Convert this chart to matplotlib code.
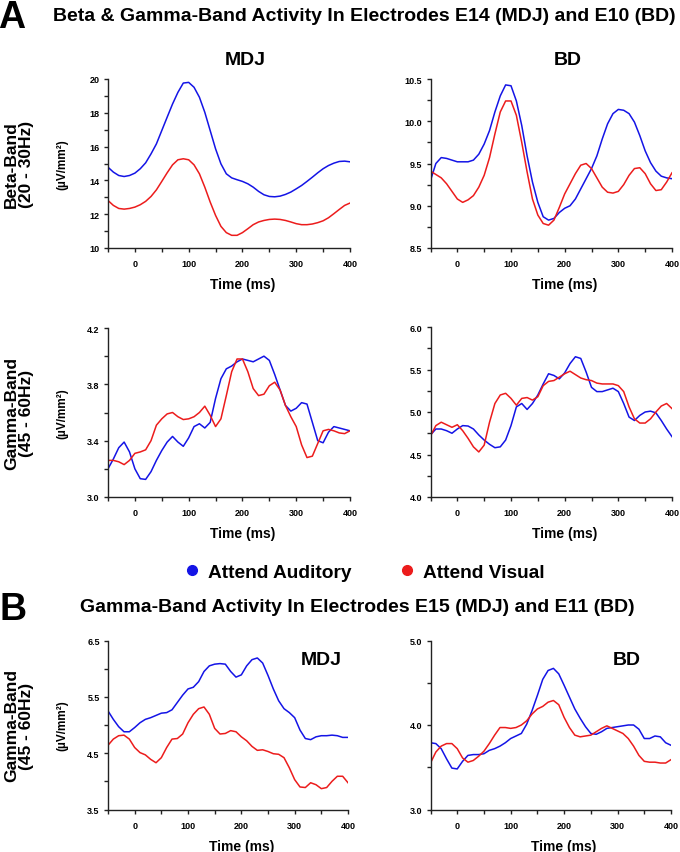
import numpy as np
import matplotlib
matplotlib.use('Agg')
import matplotlib.pyplot as plt
from matplotlib import font_manager
from matplotlib.lines import Line2D
from matplotlib.transforms import blended_transform_factory

# time axis (ms), sampled every 10 ms
t = list(range(-50, 401, 10))

# A, Beta-band, MDJ (E14)
mdj_beta_aud = [14.78, 14.49, 14.29, 14.23, 14.29, 14.43, 14.69, 15.04, 15.57, 16.16,
                16.95, 17.74, 18.52, 19.21, 19.76, 19.80, 19.51, 18.92, 18.03, 16.95,
                15.87, 14.98, 14.39, 14.15, 14.04, 13.94, 13.80, 13.60, 13.35, 13.15,
                13.05, 13.03, 13.07, 13.17, 13.31, 13.50, 13.70, 13.94, 14.19, 14.45,
                14.69, 14.88, 15.02, 15.12, 15.14, 15.10]
mdj_beta_vis = [12.81, 12.52, 12.34, 12.30, 12.34, 12.42, 12.56, 12.76, 13.05, 13.44,
                13.94, 14.45, 14.92, 15.22, 15.28, 15.22, 14.92, 14.39, 13.60, 12.72,
                11.93, 11.28, 10.91, 10.75, 10.75, 10.91, 11.14, 11.38, 11.54, 11.63,
                11.69, 11.71, 11.69, 11.63, 11.54, 11.44, 11.38, 11.38, 11.42, 11.50,
                11.61, 11.79, 12.03, 12.28, 12.52, 12.66]

# A, Beta-band, BD (E10)
bd_beta_aud = [9.30, 9.50, 9.57, 9.56, 9.54, 9.52, 9.52, 9.52, 9.54, 9.61,
               9.73, 9.89, 10.11, 10.30, 10.43, 10.42, 10.24, 9.95, 9.59, 9.28,
               9.04, 8.87, 8.83, 8.85, 8.92, 8.97, 9.00, 9.08, 9.20, 9.32,
               9.44, 9.59, 9.79, 9.97, 10.09, 10.14, 10.13, 10.09, 9.99, 9.83,
               9.65, 9.51, 9.41, 9.35, 9.33, 9.32]
bd_beta_vis = [9.41, 9.37, 9.33, 9.26, 9.17, 9.08, 9.04, 9.07, 9.12, 9.22,
               9.36, 9.57, 9.85, 10.11, 10.24, 10.24, 10.07, 9.75, 9.40, 9.08,
               8.89, 8.79, 8.77, 8.83, 8.98, 9.14, 9.26, 9.38, 9.48, 9.50,
               9.44, 9.33, 9.22, 9.16, 9.15, 9.17, 9.25, 9.36, 9.44, 9.45,
               9.38, 9.26, 9.18, 9.19, 9.28, 9.39]

# A, Gamma-band, MDJ (E14)
mdj_gamma_aud = [3.20, 3.27, 3.35, 3.39, 3.32, 3.20, 3.13, 3.125, 3.18, 3.26,
                 3.33, 3.39, 3.43, 3.39, 3.36, 3.42, 3.50, 3.52, 3.49, 3.53,
                 3.70, 3.84, 3.91, 3.93, 3.96, 3.98, 3.97, 3.96, 3.98, 4.00,
                 3.97, 3.87, 3.76, 3.65, 3.61, 3.63, 3.67, 3.66, 3.53, 3.40,
                 3.385, 3.46, 3.50, 3.49, 3.48, 3.47]
mdj_gamma_vis = [3.26, 3.26, 3.25, 3.23, 3.26, 3.31, 3.32, 3.335, 3.40, 3.51,
                 3.555, 3.59, 3.60, 3.57, 3.55, 3.555, 3.57, 3.60, 3.645, 3.58,
                 3.50, 3.555, 3.72, 3.89, 3.98, 3.98, 3.89, 3.77, 3.72, 3.73,
                 3.79, 3.815, 3.76, 3.65, 3.57, 3.50, 3.37, 3.28, 3.29, 3.38,
                 3.47, 3.48, 3.47, 3.455, 3.45, 3.47]

# A, Gamma-band, BD (E10)
bd_gamma_aud = [4.73, 4.80, 4.80, 4.78, 4.75, 4.80, 4.84, 4.835, 4.80, 4.73,
                4.67, 4.62, 4.58, 4.59, 4.67, 4.84, 5.06, 5.10, 5.03, 5.10,
                5.20, 5.33, 5.45, 5.43, 5.39, 5.46, 5.57, 5.65, 5.63, 5.47,
                5.29, 5.24, 5.24, 5.26, 5.28, 5.24, 5.10, 4.94, 4.90, 4.96,
                5.00, 5.01, 4.99, 4.90, 4.80, 4.71]
bd_gamma_vis = [4.72, 4.84, 4.88, 4.85, 4.82, 4.85, 4.78, 4.69, 4.59, 4.53,
                4.61, 4.88, 5.10, 5.20, 5.22, 5.16, 5.08, 5.16, 5.17, 5.14,
                5.18, 5.31, 5.36, 5.37, 5.41, 5.45, 5.48, 5.44, 5.40, 5.38,
                5.37, 5.34, 5.33, 5.33, 5.33, 5.31, 5.24, 5.06, 4.92, 4.87,
                4.87, 4.92, 5.00, 5.07, 5.10, 5.04]

# B, Gamma-band, MDJ (E15)
mdj_e15_aud = [5.25, 5.10, 4.97, 4.88, 4.88, 4.955, 5.04, 5.10, 5.13, 5.17,
               5.21, 5.22, 5.27, 5.40, 5.53, 5.64, 5.67, 5.77, 5.95, 6.05,
               6.08, 6.09, 6.08, 5.95, 5.85, 5.89, 6.05, 6.16, 6.19, 6.10,
               5.88, 5.64, 5.43, 5.29, 5.22, 5.13, 4.91, 4.76, 4.74, 4.79,
               4.81, 4.81, 4.82, 4.81, 4.78, 4.78]
mdj_e15_vis = [4.64, 4.75, 4.81, 4.82, 4.75, 4.60, 4.51, 4.47, 4.39, 4.33,
               4.42, 4.60, 4.75, 4.76, 4.84, 5.04, 5.19, 5.29, 5.32, 5.19,
               4.94, 4.84, 4.85, 4.90, 4.88, 4.79, 4.72, 4.62, 4.55, 4.56,
               4.53, 4.49, 4.48, 4.42, 4.24, 4.03, 3.90, 3.89, 3.975, 3.94,
               3.87, 3.89, 4.00, 4.09, 4.09, 3.975]

# B, Gamma-band, BD (E11)
bd_e11_aud = [3.79, 3.78, 3.72, 3.60, 3.49, 3.48, 3.57, 3.64, 3.65, 3.65,
              3.66, 3.70, 3.72, 3.75, 3.79, 3.84, 3.87, 3.90, 4.01, 4.17,
              4.35, 4.54, 4.645, 4.67, 4.605, 4.47, 4.33, 4.19, 4.08, 3.98,
              3.90, 3.89, 3.92, 3.96, 3.97, 3.98, 3.99, 4.00, 4.00, 3.95,
              3.84, 3.84, 3.87, 3.86, 3.79, 3.76]
bd_e11_vis = [3.55, 3.68, 3.75, 3.78, 3.78, 3.72, 3.61, 3.56, 3.58, 3.63,
              3.69, 3.78, 3.88, 3.97, 3.97, 3.96, 3.97, 4.00, 4.05, 4.13,
              4.19, 4.22, 4.27, 4.29, 4.24, 4.09, 3.97, 3.88, 3.86, 3.87,
              3.88, 3.92, 3.96, 3.99, 3.96, 3.93, 3.90, 3.84, 3.75, 3.64,
              3.57, 3.56, 3.56, 3.55, 3.55, 3.59]

legend_labels = ['Attend Auditory', 'Attend Visual']
BLUE = '#1414e6'
RED = '#ec1c1c'

names = {f.name for f in font_manager.fontManager.ttflist}
NARROW = 'Liberation Sans Narrow' if 'Liberation Sans Narrow' in names else 'Liberation Sans'
plt.rcParams['font.family'] = ['Liberation Sans', 'DejaVu Sans']
plt.rcParams['font.weight'] = 'bold'

W, H = 680, 853
fig = plt.figure(figsize=(W / 100, H / 100), dpi=100)


def make_ax(left, top, right, bottom):
    # pixel box -> figure fraction
    return fig.add_axes([left / W, 1 - bottom / H, (right - left) / W, (bottom - top) / H])


def style(ax, ylim, ystep, ylab_step, fmt):
    ax.set_xlim(-50, 400)
    ax.set_ylim(*ylim)
    for s in ['top', 'right']:
        ax.spines[s].set_visible(False)
    for s in ['left', 'bottom']:
        ax.spines[s].set_linewidth(1.0)
        ax.spines[s].set_color('#222222')
    xt = list(range(-50, 401, 50))
    ax.set_xticks(xt)
    ax.set_xticklabels([str(v) if v % 100 == 0 else '' for v in xt])
    n = int(round((ylim[1] - ylim[0]) / ystep))
    yt = [ylim[0] + i * ystep for i in range(n + 1)]
    ax.set_yticks(yt)
    k = int(round(ylab_step / ystep))
    ax.set_yticklabels([fmt.format(v) if i % k == 0 else '' for i, v in enumerate(yt)])
    ax.tick_params(axis='both', direction='out', length=3, width=1.0, color='#222222',
                   labelsize=6.5)
    ax.tick_params(axis='x', pad=5)
    ax.tick_params(axis='y', pad=3)
    for lab in ax.get_xticklabels() + ax.get_yticklabels():
        lab.set_fontweight('bold')
    ax.set_xlabel('Time (ms)', fontsize=10, fontweight='bold')
    ax.xaxis.set_label_coords(250 / 450, -0.172)


def plot_pair(ax, aud, vis):
    ax.plot(t, aud, color=BLUE, lw=1.1)
    ax.plot(t, vis, color=RED, lw=1.1)


L0, L1 = 108, 350
R0, R1 = 430.5, 672

ax1 = make_ax(L0, 80, L1, 249)
plot_pair(ax1, mdj_beta_aud, mdj_beta_vis)
style(ax1, (10, 20), 1, 2, '{:.0f}')

ax2 = make_ax(R0, 80, R1, 249)
plot_pair(ax2, bd_beta_aud, bd_beta_vis)
style(ax2, (8.5, 10.5), 0.25, 0.5, '{:.1f}')

ax3 = make_ax(L0, 329, L1, 498)
plot_pair(ax3, mdj_gamma_aud, mdj_gamma_vis)
style(ax3, (3.0, 4.2), 0.2, 0.4, '{:.1f}')

ax4 = make_ax(R0, 328, R1, 498)
plot_pair(ax4, bd_gamma_aud, bd_gamma_vis)
style(ax4, (4.0, 6.0), 0.25, 0.5, '{:.1f}')

ax5 = make_ax(L0, 641.5, 348, 810.5)
plot_pair(ax5, mdj_e15_aud, mdj_e15_vis)
style(ax5, (3.5, 6.5), 0.5, 1.0, '{:.1f}')

ax6 = make_ax(R0, 641.5, 671, 810.5)
plot_pair(ax6, bd_e11_aud, bd_e11_vis)
style(ax6, (3.0, 5.0), 0.5, 1.0, '{:.1f}')

# column titles for part A, centred over t = 200
for ax, name in [(ax1, 'MDJ'), (ax2, 'BD')]:
    tr = blended_transform_factory(ax.transData, ax.transAxes)
    ax.text(205, 1.118, name, transform=tr, ha='center', va='center',
            fontsize=14, fontweight='bold', family=NARROW)

# panel names inside part B
ax5.text(0.888, 0.885, 'MDJ', transform=ax5.transAxes, ha='center', va='center',
         fontsize=14, fontweight='bold', family=NARROW)
ax6.text(0.817, 0.885, 'BD', transform=ax6.transAxes, ha='center', va='center',
         fontsize=14, fontweight='bold', family=NARROW)

# row labels and unit labels
for ax, txt in [(ax1, 'Beta-Band\n(20 - 30Hz)'), (ax3, 'Gamma-Band\n(45 - 60Hz)'),
                (ax5, 'Gamma-Band\n(45 - 60Hz)')]:
    box = ax.get_position()
    yc = box.y0 + box.height / 2
    fig.text(19 / W, yc, txt, rotation=90, ha='center', va='center', fontsize=12.5,
             fontweight='bold', linespacing=1.0, multialignment='center')
    fig.text(62 / W, yc, '(\u00b5V/mm\u00b2)', rotation=90, ha='center', va='center',
             fontsize=8.5, fontweight='bold')

# headings
fig.text(12 / W, 1 - 18 / H, 'A', ha='center', va='center', fontsize=27,
         fontweight='bold', family=NARROW)
fig.text(364 / W, 1 - 16.5 / H,
         'Beta & Gamma-Band Activity In Electrodes E14 (MDJ) and E10 (BD)',
         ha='center', va='center', fontsize=14, fontweight='bold', family=NARROW)
fig.text(13 / W, 1 - 610 / H, 'B', ha='center', va='center', fontsize=27,
         fontweight='bold', family=NARROW)
fig.text(357 / W, 1 - 607 / H,
         'Gamma-Band Activity In Electrodes E15 (MDJ) and E11 (BD)',
         ha='center', va='center', fontsize=14, fontweight='bold', family=NARROW)

# legend
handles = [Line2D([], [], ls='none', marker='o', ms=7, color=BLUE),
           Line2D([], [], ls='none', marker='o', ms=7, color=RED)]
fig.legend(handles, legend_labels, loc='center', bbox_to_anchor=(363.5 / W, 1 - 573 / H),
           ncol=2, frameon=False, handletextpad=0.35, columnspacing=2.4,
           handlelength=1.0, prop={'family': NARROW, 'weight': 'bold', 'size': 13.8})

fig.savefig('out.png', dpi=100)
